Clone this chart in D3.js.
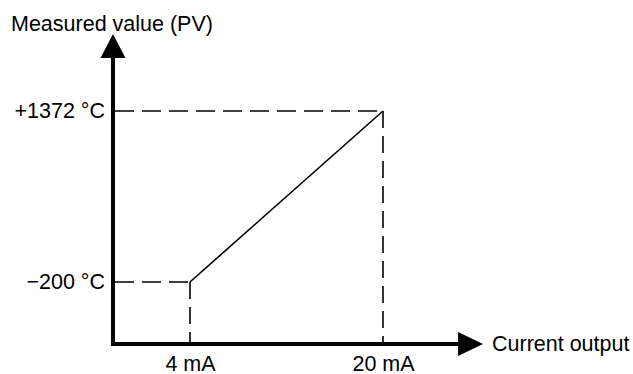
<!DOCTYPE html>
<html>
<head>
<meta charset="utf-8">
<script src="https://cdn.jsdelivr.net/npm/d3@7"></script>
<style>
  body { margin: 0; background: #fff; }
  text { font-family: "Liberation Sans", Arial, sans-serif; font-size: 21.5px; fill: #000; }
</style>
</head>
<body>
<svg id="chart" width="633" height="374"></svg>
<script>
const svg = d3.select("#chart")

// data
const current_mA = [4, 20]
const measured_C = [-200, 1372]
const x_labels = ["4 mA", "20 mA"]
const y_labels = ["\u2212200 \u00b0C", "+1372 \u00b0C"]
const x_title = "Current output"
const y_title = "Measured value (PV)"

const origin = { x: 113, y: 344 }

const x = d3.scaleLinear()
    .domain([4, 20])
    .range([190, 383])

const y = d3.scaleLinear()
    .domain([-200, 1372])
    .range([282, 111])

const points = current_mA.map((c, i) => ({ c: c, v: measured_C[i] }))

// dashed guides
const guides = svg.append("g")
    .attr("stroke", "#000")
    .attr("stroke-width", 1.6)
    .attr("fill", "none")

points.forEach(function (d) {
    guides.append("line")
        .attr("x1", origin.x + 2).attr("y1", y(d.v))
        .attr("x2", x(d.c)).attr("y2", y(d.v))
        .attr("stroke-dasharray", "19,8")
    guides.append("line")
        .attr("x1", x(d.c)).attr("y1", y(d.v))
        .attr("x2", x(d.c)).attr("y2", origin.y - 2)
        .attr("stroke-dasharray", "17,8")
})

// the line
svg.append("path")
    .datum(points)
    .attr("fill", "none")
    .attr("stroke", "#000")
    .attr("stroke-width", 1.6)
    .attr("d", d3.line().x(d => x(d.c)).y(d => y(d.v)))

// axes lines
svg.append("line")
    .attr("x1", origin.x).attr("y1", origin.y + 2)
    .attr("x2", origin.x).attr("y2", 56)
    .attr("stroke", "#000").attr("stroke-width", 4)
svg.append("line")
    .attr("x1", origin.x - 2).attr("y1", origin.y)
    .attr("x2", 460).attr("y2", origin.y)
    .attr("stroke", "#000").attr("stroke-width", 4)

// arrow heads
svg.append("path")
    .attr("d", `M${origin.x},34 L${origin.x + 12.5},58 L${origin.x - 12.5},58 Z`)
    .attr("fill", "#000")
svg.append("path")
    .attr("d", `M483,${origin.y} L458,${origin.y - 12} L458,${origin.y + 12} Z`)
    .attr("fill", "#000")

// tick labels via axes
const xAxis = d3.axisBottom(x)
    .tickValues(current_mA)
    .tickSize(0)
    .tickPadding(0)
    .tickFormat((d, i) => x_labels[i])

svg.append("g")
    .attr("transform", `translate(0,${origin.y + 12})`)
    .call(xAxis)
    .call(g => g.select(".domain").remove())

const yAxis = d3.axisLeft(y)
    .tickValues(measured_C)
    .tickSize(0)
    .tickPadding(0)
    .tickFormat((d, i) => y_labels[i])

svg.append("g")
    .attr("transform", `translate(${origin.x - 8},0)`)
    .call(yAxis)
    .call(g => g.select(".domain").remove())

// titles
svg.append("text")
    .attr("x", 11)
    .attr("y", 31)
    .text(y_title)

svg.append("text")
    .attr("x", 492)
    .attr("y", 351)
    .text(x_title)
</script>
</body>
</html>
